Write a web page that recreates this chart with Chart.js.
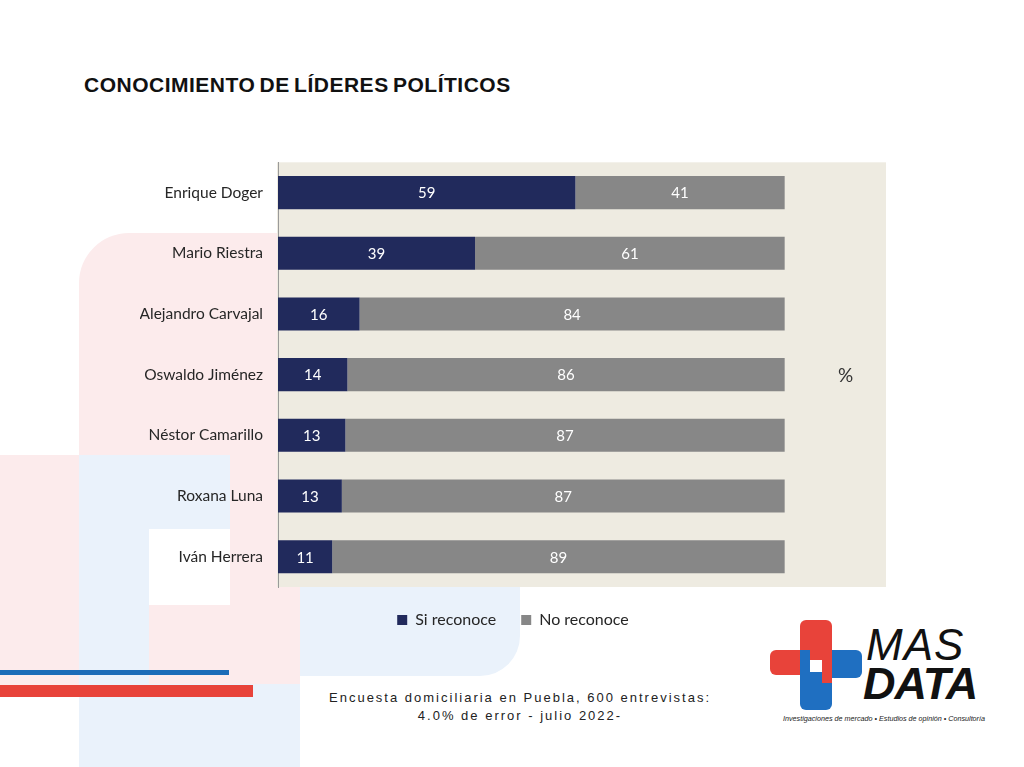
<!DOCTYPE html>
<html>
<head>
<meta charset="utf-8">
<script src="https://cdn.jsdelivr.net/npm/chart.js@4.4.0/dist/chart.umd.min.js"></script>
<style>
  body { margin: 0; width: 1024px; height: 767px; position: relative; overflow: hidden; background: #fff; font-family: Lato, sans-serif; }
  .bg { position: absolute; }
  .pink { background: #fcebec; }
  .blue { background: #eaf2fb; }
  #title { position: absolute; left: 84px; top: 73px; font: bold 21px "Liberation Sans", Arial, sans-serif; color: #111; letter-spacing: 0.5px; word-spacing: -2px; white-space: nowrap; }
  #chartBox { position: absolute; left: 140px; top: 138px; width: 748px; height: 500px; z-index: 2; }
  #pct { position: absolute; left: 838px; top: 363px; font: 19px Lato, sans-serif; color: #333; z-index: 3; }
  #footer { position: absolute; left: 220px; width: 600px; top: 689px; text-align: center; font: 13px "Liberation Sans", Arial, sans-serif; color: #222; letter-spacing: 2px; line-height: 18px; }
  .logo { position: absolute; }
  .red { background: #e8433a; }
  .lblue { background: #1f6fc1; }
  #mas { position: absolute; left: 866px; top: 620px; font: italic 44px "Liberation Sans", Arial, sans-serif; color: #111; letter-spacing: 1px; }
  #data { position: absolute; left: 863px; top: 658px; font: italic bold 45px "Liberation Sans", Arial, sans-serif; color: #111; letter-spacing: -1px; }
  #tag { position: absolute; left: 783px; top: 714px; font: italic 7.2px "Liberation Sans", Arial, sans-serif; color: #222; white-space: nowrap; }
</style>
</head>
<body>
<!-- faded background shapes -->
<div class="bg pink" style="left:79px; top:233px; width:221px; height:457px; border-top-left-radius:50px;"></div>
<div class="bg pink" style="left:0; top:455px; width:79px; height:235px;"></div>
<div class="bg blue" style="left:79px; top:455px; width:70px; height:312px;"></div>
<div class="bg blue" style="left:149px; top:455px; width:81px; height:74px;"></div>
<div class="bg blue" style="left:79px; top:684px; width:221px; height:83px;"></div>
<div class="bg blue" style="left:300px; top:560px; width:220px; height:116px; border-bottom-right-radius:40px;"></div>
<div class="bg" style="left:149px; top:529px; width:81px; height:76px; background:#fff;"></div>
<div class="bg" style="left:0; top:670px; width:229px; height:5px; background:#1b6cb8;"></div>
<div class="bg" style="left:0; top:685px; width:253px; height:12px; background:#e8433a;"></div>

<div id="title">CONOCIMIENTO DE LÍDERES POLÍTICOS</div>
<div id="chartBox"><canvas id="chart" width="748" height="500"></canvas></div>
<div id="pct">%</div>
<div id="footer">Encuesta domiciliaria en Puebla, 600 entrevistas:<br>4.0% de error - julio 2022-</div>

<!-- logo -->
<div class="logo red" style="left:800px; top:620px; width:32px; height:45px; border-radius:6px 6px 0 0;"></div>
<div class="logo red" style="left:770px; top:650px; width:32px; height:25px; border-radius:6px 0 0 6px;"></div>
<div class="logo lblue" style="left:830px; top:650px; width:32px; height:28px; border-radius:0 6px 6px 0;"></div>
<div class="logo lblue" style="left:800px; top:672px; width:32px; height:38px; border-radius:0 0 6px 6px;"></div>
<div class="logo lblue" style="left:800px; top:650px; width:10px; height:24px;"></div>
<div class="logo red" style="left:822px; top:650px; width:10px; height:33px;"></div>
<div class="logo" style="left:810px; top:660px; width:12px; height:12px; background:#fff;"></div>
<div id="mas">MAS</div>
<div id="data">DATA</div>
<div id="tag">Investigaciones de mercado • Estudios de opinión • Consultoría</div>

<script>
const leaders = ["Enrique Doger", "Mario Riestra", "Alejandro Carvajal", "Oswaldo Jiménez", "Néstor Camarillo", "Roxana Luna", "Iván Herrera"];
const siReconoce = [58.7, 38.9, 16.1, 13.7, 13.3, 12.6, 10.7];
const noReconoce = [41.3, 61.1, 83.9, 86.3, 86.7, 87.4, 89.3];
const seriesNames = ["Si reconoce", "No reconoce"];

// plot background
const plotBg = {
  id: "plotBg",
  beforeDraw(chart) {
    const { ctx, chartArea: a } = chart;
    ctx.save();
    ctx.fillStyle = "#eeebe1";
    ctx.fillRect(a.left - 1, a.top, a.right - a.left + 1, a.bottom - a.top);
    ctx.restore();
  },
};

// white numbers inside the bars
const barLabels = {
  id: "barLabels",
  afterDatasetsDraw(chart) {
    const ctx = chart.ctx;
    ctx.save();
    ctx.fillStyle = "#ffffff";
    ctx.font = "15px Lato, sans-serif";
    ctx.textAlign = "center";
    ctx.textBaseline = "middle";
    chart.data.datasets.forEach((ds, i) => {
      chart.getDatasetMeta(i).data.forEach((bar, j) => {
        const p = bar.getProps(["x", "y", "base"], true);
        ctx.fillText(Math.round(ds.data[j]), (p.x + p.base) / 2, p.y + 1);
      });
    });
    ctx.restore();
  },
};

new Chart(document.getElementById("chart"), {
  type: "bar",
  data: {
    labels: leaders,
    datasets: [
      { label: seriesNames[0], data: siReconoce, backgroundColor: "#212a5c" },
      { label: seriesNames[1], data: noReconoce, backgroundColor: "#878787" },
    ],
  },
  options: {
    indexAxis: "y",
    responsive: false,
    devicePixelRatio: 1,
    animation: false,
    layout: { padding: { top: 12, right: 2, left: 0, bottom: 0 } },
    datasets: { bar: { categoryPercentage: 1, barPercentage: 0.545 } },
    scales: {
      x: { stacked: true, min: 0, max: 120, display: false },
      y: {
        stacked: true,
        grid: { display: false, drawTicks: false },
        border: { display: true, color: "#9a9a9a", width: 1 },
        ticks: { color: "#262626", padding: 15, font: { family: "Lato", size: 15.5 } },
        afterFit(axis) { axis.width = 138; },
      },
    },
    plugins: {
      tooltip: { enabled: false },
      legend: {
        position: "bottom",
        labels: { boxWidth: 10, boxHeight: 10, padding: 25, color: "#262626", font: { family: "Lato", size: 16 } },
      },
    },
  },
  plugins: [plotBg, barLabels],
});
</script>
</body>
</html>
